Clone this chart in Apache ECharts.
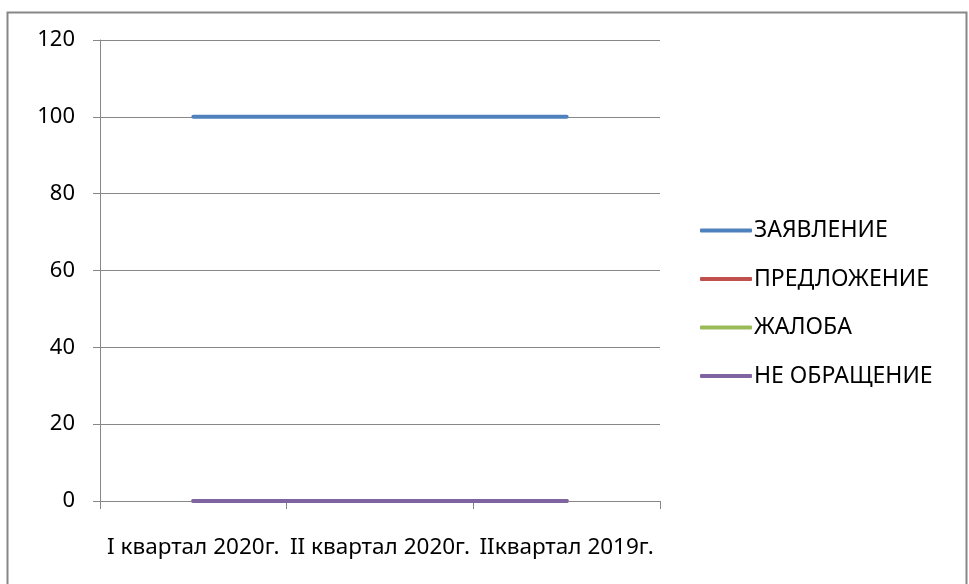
<!DOCTYPE html>
<html><head><meta charset="utf-8">
<script src="https://cdn.jsdelivr.net/npm/echarts@6/dist/echarts.min.js"></script>
<style>html,body{margin:0;padding:0;background:#fff}#c{width:969px;height:584px}</style>
</head><body><div id="c"></div>
<script>
const categories = ['I квартал 2020г.', 'II квартал 2020г.', 'IIквартал 2019г.'];
const seriesNames = ['ЗАЯВЛЕНИЕ', 'ПРЕДЛОЖЕНИЕ', 'ЖАЛОБА', 'НЕ ОБРАЩЕНИЕ'];
const zayavlenie = [100, 100, 100];
const predlozhenie = [0, 0, 0];
const zhaloba = [0, 0, 0];
const neObrashchenie = [0, 0, 0];
const colors = ['#4F81BD', '#C0504D', '#9BBB59', '#8064A2'];
const values = [zayavlenie, predlozhenie, zhaloba, neObrashchenie];

const font = 'Noto Sans';
const chart = echarts.init(document.getElementById('c'), null, {renderer: 'canvas'});
chart.setOption({
  animation: false,
  color: colors,
  graphic: [{
    type: 'rect', left: 5, top: 10, silent: true,
    shape: {width: 959, height: 600},
    style: {fill: 'none', stroke: '#878787', lineWidth: 2}
  }],
  grid: {left: 100, right: 309, top: 40, bottom: 83, containLabel: false},
  legend: {
    orient: 'vertical', left: 695, top: 214,
    icon: 'roundRect', itemWidth: 52, itemHeight: 4, itemGap: 25.5,
    textStyle: {fontFamily: font, fontSize: 23, color: '#000', lineHeight: 20, padding: [0,0,0,-3]},
    data: seriesNames
  },
  xAxis: {
    type: 'category', data: categories, boundaryGap: true,
    axisLine: {lineStyle: {color: '#878787', width: 1}},
    axisTick: {show: true, length: 8, lineStyle: {color: '#878787'}},
    axisLabel: {interval: 0, margin: 35, fontFamily: font, fontSize: 22.5, color: '#000'}
  },
  yAxis: {
    type: 'value', min: 0, max: 120, interval: 20,
    axisLine: {show: true, lineStyle: {color: '#878787', width: 1}},
    axisTick: {show: true, length: 7, lineStyle: {color: '#878787'}},
    splitLine: {lineStyle: {color: '#878787', width: 1}},
    axisLabel: {margin: 25, fontFamily: font, fontSize: 22, color: '#000'}
  },
  series: seriesNames.map((n, i) => ({
    name: n, type: 'line', data: values[i], symbol: 'none',
    lineStyle: {width: 4, color: colors[i], cap: 'round'},
    itemStyle: {color: colors[i]}
  }))
});
</script></body></html>
